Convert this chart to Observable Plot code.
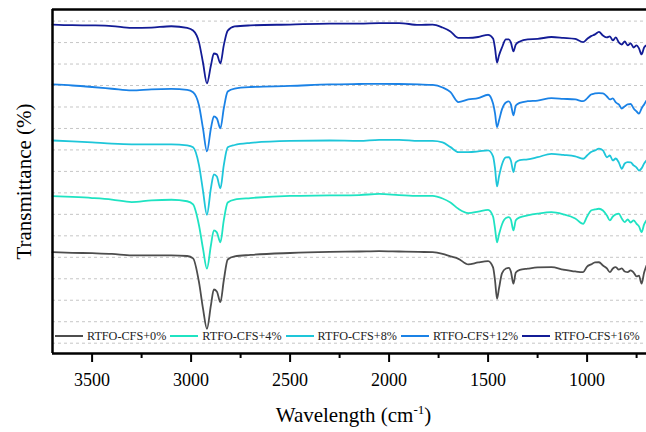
<!DOCTYPE html>
<html><head><meta charset="utf-8">
<script src="https://cdn.jsdelivr.net/npm/d3@7"></script>
<script src="https://cdn.jsdelivr.net/npm/@observablehq/plot@0.6"></script>
<style>
html,body{margin:0;padding:0;background:#fff;overflow:hidden;width:646px;height:432px;}
#wrap{position:relative;width:646px;height:432px;}
#wrap svg, #wrap svg text, #wrap svg tspan{font-family:"Liberation Serif","Times New Roman",Times,serif !important;}
#legend{position:absolute;left:55px;top:328px;display:flex;align-items:center;white-space:nowrap;font-family:"Liberation Serif","Times New Roman",Times,serif;font-size:12.2px;color:#222;line-height:16px;}
#legend .sw{display:inline-block;width:28px;height:2px;margin-right:4px;}
#legend .lb{margin-right:4px;}
</style></head><body><div id="wrap"><div id="legend"></div></div>
<script>
// wavenumber grid (cm-1)
const wavenumber = [3700,3600,3500,3400,3300,3200,3100,3020,2990,2960,2940,2920,2900,2885,2870,2852,2835,2815,2780,2700,2500,2300,2150,2050,1950,1850,1780,1730,1690,1650,1600,1550,1500,1475,1465,1455,1445,1430,1410,1395,1385,1372,1360,1340,1300,1250,1180,1120,1060,1020,1000,980,960,940,920,900,885,870,855,840,825,810,795,780,765,750,738,725,712,700];
// transmittance (a.u., stacked offsets)
const s0 = [42.4,42.1,41.9,41.6,40.9,40.9,40.9,40.6,39.5,28.3,16.2,6.7,17.6,25.0,24.1,19.1,29.2,39.0,40.4,41.1,42.0,42.5,42.7,42.9,42.7,42.5,42.4,41.6,40.4,39.3,36.7,37.6,38.2,35.3,29.2,20.7,25.5,32.5,34.8,35.1,33.4,27.7,32.9,34.1,34.7,35.3,35.4,34.3,33.4,33.1,35.7,36.7,37.6,37.7,36.2,34.8,33.1,34.8,35.4,34.3,34.8,33.4,33.1,33.9,32.9,31.1,31.5,27.7,32.9,36.2];
const s4 = [68.5,68.1,67.6,66.9,65.7,66.5,66.8,66.1,64.6,54.8,44.1,34.7,45.5,52.5,51.6,47.0,57.2,65.5,66.9,67.6,68.6,68.8,69.0,69.5,69.0,68.6,68.6,67.4,65.5,62.6,60.6,61.3,62.1,59.0,53.4,47.0,50.6,55.3,58.3,58.7,57.6,52.5,57.2,58.6,59.5,60.3,61.0,60.0,58.1,55.6,59.0,61.8,62.3,62.6,61.8,59.5,57.2,59.0,60.0,60.3,58.1,56.4,57.6,56.2,57.2,55.6,54.4,51.7,55.3,57.2];
const s8 = [94.4,94.0,93.5,92.9,92.6,92.6,92.6,92.1,91.2,82.8,71.1,59.8,72.1,78.6,77.6,72.1,82.8,91.2,92.3,93.3,94.2,94.4,94.2,94.7,94.7,94.2,94.2,93.5,91.3,89.0,89.0,89.3,89.8,87.0,81.4,73.0,77.6,83.2,86.5,86.6,85.1,79.7,84.2,85.3,85.6,86.6,88.2,87.7,87.0,85.9,87.4,89.0,89.8,90.6,89.8,86.6,87.4,85.1,86.0,84.2,81.2,83.7,84.3,84.2,82.8,81.8,80.4,81.4,83.7,85.1];
const s12 = [120.5,120.0,119.3,118.5,117.7,118.2,118.4,118.0,116.9,110.7,100.0,89.3,100.0,105.6,104.7,100.0,109.3,117.2,118.6,119.3,119.8,120.5,120.7,120.8,120.7,120.5,120.3,119.1,116.9,112.3,113.5,114.1,115.7,111.6,107.0,100.6,103.7,108.9,112.1,112.6,111.2,106.1,110.7,111.9,112.7,113.0,114.1,113.8,113.5,112.7,114.0,115.8,116.3,116.5,116.3,114.9,113.5,114.0,112.1,111.2,109.3,110.3,111.2,111.4,109.3,107.9,106.9,109.3,111.2,113.0];
const s16 = [148.4,148.1,148.0,147.7,146.8,147.0,147.6,146.8,145.6,140.1,130.7,121.0,129.3,134.9,134.5,130.3,138.7,145.6,147.5,148.0,148.4,148.8,148.8,149.1,149.1,148.2,148.4,147.0,145.2,142.2,142.2,142.6,143.6,141.9,137.3,130.7,134.0,137.7,141.5,141.5,140.1,135.9,139.1,140.5,141.5,141.7,142.6,142.2,141.7,140.2,141.7,143.0,143.8,145.0,143.3,142.4,142.9,141.0,142.4,140.1,139.1,140.5,138.7,139.6,137.7,138.7,137.3,134.5,137.7,138.7];
const seriesNames = ["RTFO-CFS+0%","RTFO-CFS+4%","RTFO-CFS+8%","RTFO-CFS+12%","RTFO-CFS+16%"];
const majorTicks = [3500,3000,2500,2000,1500,1000];
const minorTicks = [3250,2750,2250,1750,1250,750];
const gridTicks = [0,10,20,30,40,50,60,70,80,90,100,110,120,130,140,150];
const xLabelText = "Wavelength (cm-1)";
const yLabelText = "Transmittance (%)";

const palette = ["#4d4d4d","#1fe3c2","#1ec6d9","#1a82e6","#131c96"];
const xDomain = [3700, 700];
const yDomain = [-4.8, 155.4];
const font = "Liberation Serif";

const seriesValues = [s0, s4, s8, s12, s16];
const rows = [];
seriesValues.forEach((vals, k) => {
  vals.forEach((t, i) => rows.push({w: wavenumber[i], t, series: seriesNames[k]}));
});

const chart = Plot.plot({
  width: 646, height: 432,
  marginTop: 9, marginBottom: 79, marginLeft: 52, marginRight: 0,
  style: {fontFamily: font, background: "#fff", color: "#000"},
  x: {domain: xDomain, axis: null},
  y: {domain: yDomain, axis: null},
  color: {domain: seriesNames, range: palette},
  marks: [
    Plot.ruleY(gridTicks, {stroke: "#c6c6c6", strokeWidth: 1, strokeDasharray: "3,3"}),
    Plot.line(rows, {x: "w", y: "t", z: "series", stroke: "series", strokeWidth: 1.8, strokeLinejoin: "round", curve: "monotone-x"}),
    Plot.ruleX([xDomain[0]], {stroke: "#000", strokeWidth: 2.5}),
    Plot.ruleY([yDomain[0]], {stroke: "#000", strokeWidth: 2.5}),
    Plot.ruleY([yDomain[1]], {stroke: "#000", strokeWidth: 2.5}),
    Plot.axisX(majorTicks, {anchor: "bottom", tickSize: 9, tickPadding: 11, strokeWidth: 2, fontSize: 18, fontFamily: font, label: null, tickFormat: d3.format("d")}),
    Plot.axisX(minorTicks, {anchor: "bottom", tickSize: 5, strokeWidth: 2, tickFormat: () => "", label: null}),
    Plot.text([yLabelText], {frameAnchor: "left", rotate: -90, dx: -28, fontSize: 21, fontFamily: font, textAnchor: "middle", lineAnchor: "middle"}),
    Plot.text([xLabelText], {frameAnchor: "bottom", dx: 4, dy: 68.7, fontSize: 21, fontFamily: font, textAnchor: "middle", lineAnchor: "bottom"})
  ]
});

d3.select(chart).selectAll("text").filter(function(){ return this.textContent === xLabelText; }).each(function(){
  const t = d3.select(this);
  t.text(null);
  t.append("tspan").text("Wavelength (cm");
  t.append("tspan").attr("dy", "-8").attr("font-size", "13").text("-1");
  t.append("tspan").attr("dy", "8").text(")");
});

const wrap = document.getElementById("wrap");
wrap.insertBefore(chart, wrap.firstChild);

const legend = d3.select("#legend");
seriesNames.forEach((name, k) => {
  const item = legend.append("span").style("display", "inline-flex").style("align-items", "center");
  item.append("span").attr("class", "sw").style("background", palette[k]);
  item.append("span").attr("class", "lb").text(name);
});
</script></body></html>
